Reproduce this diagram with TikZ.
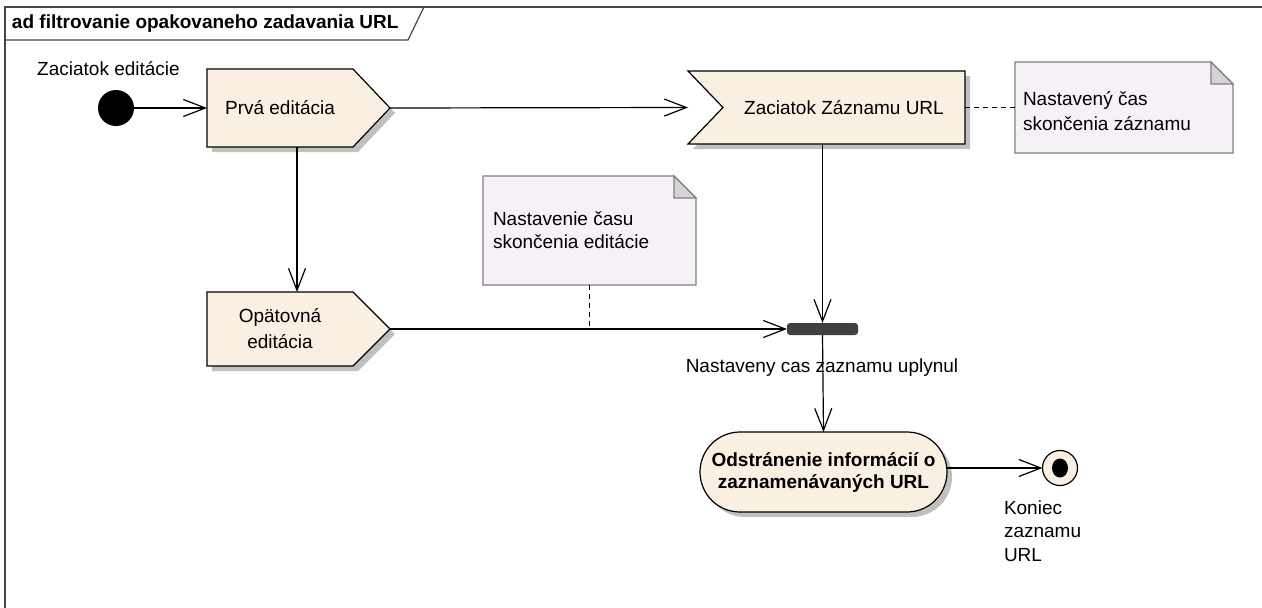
\documentclass[tikz,border=0pt]{standalone}
\usepackage{fontspec}
\setmainfont{Liberation Sans}
\usetikzlibrary{arrows.meta,calc}

\definecolor{actfill}{RGB}{250,240,225}
\definecolor{notefill}{RGB}{246,241,246}
\definecolor{noteedge}{RGB}{128,128,128}
\definecolor{foldfill}{RGB}{212,212,212}
\definecolor{shadowgray}{RGB}{192,192,192}
\definecolor{framegray}{RGB}{70,70,70}
\definecolor{forkgray}{RGB}{64,64,64}

\begin{document}
\begin{tikzpicture}[x=1pt,y=-1pt,
  font=\fontsize{19}{23}\selectfont,
  every node/.style={inner sep=0pt, outer sep=0pt},
  flow/.style={line width=1.2pt, -{Straight Barb[length=22pt,width=17pt,line width=1.2pt]}},
  notelink/.style={line width=1.2pt, dash pattern=on 5pt off 4pt},
  actshape/.style={draw=black, line width=1.2pt, fill=actfill},
  shadowfill/.style={fill=shadowgray},
  noteshape/.style={draw=noteedge, line width=1.2pt, fill=notefill},
  foldshape/.style={draw=noteedge, line width=1.2pt, fill=foldfill},
]
\useasboundingbox (0,0) rectangle (1262,608);
\fill[white] (0,0) rectangle (1262,608);

% diagram frame and its title tab
\draw[framegray, line width=1.5pt] (1262,7) -- (5,7) -- (5,608);
\draw[framegray, line width=1.2pt] (5,40) -- (408,40) -- (424,7);
\node[anchor=west, font=\fontsize{19}{23}\selectfont\bfseries] (title) at (12,24)
  {ad filtrovanie opakovaneho zadavania URL};

% initial node
\node[circle, fill=black, minimum size=36pt] (init) at (116,108) {};
\node (initlbl) at (108.5,69) {Zaciatok editácie};

% send signal: Prvá editácia
\fill[shadowfill] (212,74) -- (358,74) -- (395,113) -- (358,152) -- (212,152) -- cycle;
\draw[actshape] (207,69) -- (353,69) -- (390,108) -- (353,147) -- (207,147) -- cycle;
\node[minimum width=146pt, minimum height=78pt] (prva) at (280,108) {Prvá editácia};
\coordinate (prvatip) at (390,108);

% accept event: Zaciatok Záznamu URL
\fill[shadowfill] (693,76) -- (970,76) -- (970,149) -- (693,149) -- (728,112.5) -- cycle;
\draw[actshape] (688,71) -- (965,71) -- (965,144) -- (688,144) -- (723,107.5) -- cycle;
\node[minimum width=242pt, minimum height=73pt] (zac) at (844,107.5) {Zaciatok Záznamu URL};

% note attached to the accept event
\draw[noteshape] (1015,62) -- (1211,62) -- (1233,84) -- (1233,153) -- (1015,153) -- cycle;
\draw[foldshape] (1211,62) -- (1211,84) -- (1233,84) -- cycle;
\node[anchor=west, align=left, font=\fontsize{19}{25}\selectfont] (note1) at (1023,111.5)
  {Nastavený čas\\skončenia záznamu};
\coordinate (note1in) at (1015,107.5);

% send signal: Opätovná editácia
\fill[shadowfill] (212,297) -- (358,297) -- (395,334) -- (358,371) -- (212,371) -- cycle;
\draw[actshape] (207,292) -- (353,292) -- (390,329) -- (353,366) -- (207,366) -- cycle;
\node[minimum width=146pt, minimum height=74pt, align=center,
      font=\fontsize{19}{26}\selectfont] (opat) at (280,329) {Opätovná\\editácia};
\coordinate (opattip) at (390,329);

% note attached to the repeated-edit flow
\draw[noteshape] (483,176) -- (674,176) -- (696,198) -- (696,285) -- (483,285) -- cycle;
\draw[foldshape] (674,176) -- (674,198) -- (696,198) -- cycle;
\node[anchor=west, align=left] (note2) at (493,230)
  {Nastavenie času\\skončenia editácie};
\coordinate (note2foot) at (589.5,285);
\coordinate (note2join) at (589.5,329);

% join bar
\node[fill=forkgray, rounded corners=3pt, minimum width=71pt, minimum height=12pt] (fork) at (822.5,329) {};
\node (guard) at (822,368) {Nastaveny cas zaznamu uplynul};

% action: Odstránenie informácií
\fill[shadowfill, rounded corners=40pt] (705,437) rectangle (952,517);
\node[actshape, rounded corners=40pt, minimum width=247pt, minimum height=80pt,
      align=center, font=\fontsize{19}{22}\selectfont\bfseries] (odstr) at (823.5,472)
  {Odstránenie informácií o\\zaznamenávaných URL};

% final node
\node[circle, draw=black, line width=1.2pt, fill=actfill, minimum size=35pt] (fin) at (1060,468) {};
\fill[black] (fin.center) ellipse [x radius=8pt, y radius=9.5pt];
\node[anchor=west, align=left, font=\fontsize{19}{23.5}\selectfont] (finlbl) at (1004,531)
  {Koniec\\zaznamu\\URL};

% control flows
\draw[flow] (init) -- (prva);
\draw[flow] (prvatip) -- ([xshift=-35pt]zac.west);
\draw[flow] ([xshift=17pt]prva.south) -- ([xshift=17pt]opat.north);
\draw[flow] (fork.north |- zac.south) -- (fork.north);
\draw[flow] (opattip) -- (fork.west);
\draw[flow] (fork.south) -- (odstr.north);
\draw[flow] (odstr.east |- fin) -- (fin);

% note links
\draw[notelink] (zac.east) -- (note1in);
\draw[notelink] (note2foot) -- (note2join);
\end{tikzpicture}
\end{document}
